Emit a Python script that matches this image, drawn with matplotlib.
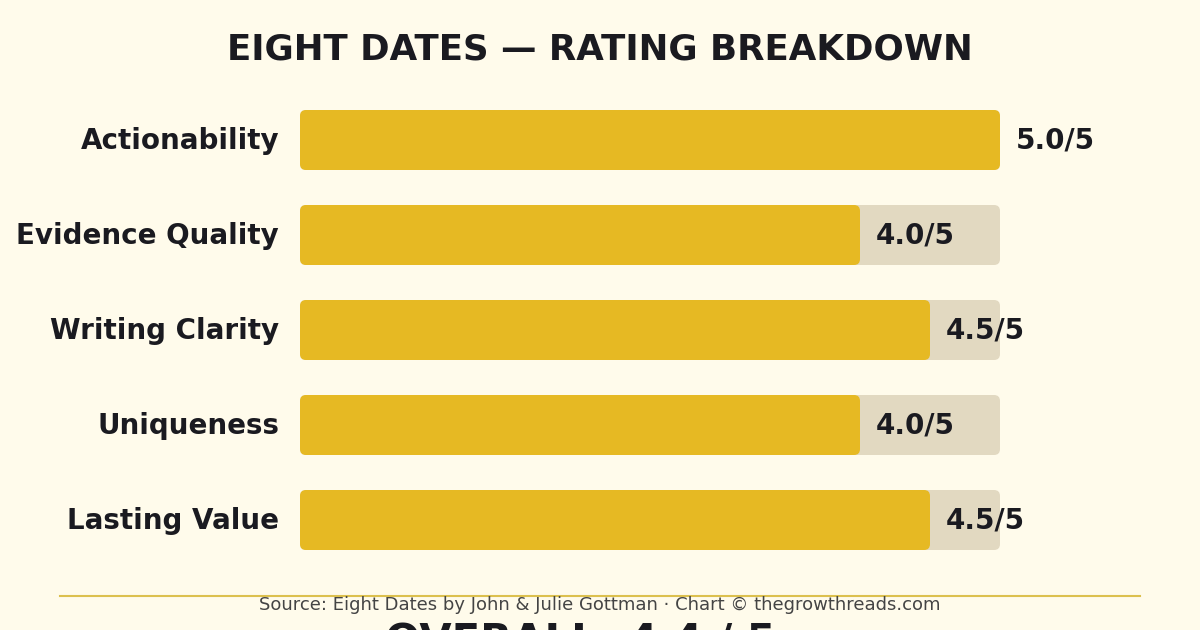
import matplotlib
matplotlib.use("Agg")
import matplotlib.pyplot as plt
from matplotlib.patches import FancyBboxPatch
from matplotlib.lines import Line2D

# =========================
# Data
# =========================
categories = ["Actionability", "Evidence Quality", "Writing Clarity", "Uniqueness", "Lasting Value"]
scores = [5.0, 4.0, 4.5, 4.0, 4.5]
max_score = 5.0
overall = 4.4

BG = "#FFFBEB"
GOLD = "#E6B923"
TRACK = "#E2D9C1"
INK = "#1A1A20"

plt.rcParams["font.family"] = ["DejaVu Sans"]

fig = plt.figure(figsize=(12, 6.3), dpi=100, facecolor=BG)
ax = fig.add_axes([300 / 1200, 1 - 567.5 / 630, 700 / 1200, 475 / 630])
ax.set_facecolor(BG)
ax.set_xlim(0, max_score)
ax.set_ylim(len(categories) - 0.5, -0.5)
ax.axis("off")

bar_h = 60 / 95
aspect = 140 / 95
rad = 6 / 140

for i, (cat, s) in enumerate(zip(categories, scores)):
    # background track
    ax.add_patch(FancyBboxPatch((0, i - bar_h / 2), max_score, bar_h,
                                boxstyle=f"round,pad=0,rounding_size={rad}",
                                mutation_aspect=aspect, fc=TRACK, ec="none"))
    # score bar
    ax.add_patch(FancyBboxPatch((0, i - bar_h / 2), s, bar_h,
                                boxstyle=f"round,pad=0,rounding_size={rad}",
                                mutation_aspect=aspect, fc=GOLD, ec="none"))
    ax.text(-0.15, i + 0.01, cat, ha="right", va="center", fontsize=20,
            fontweight="bold", color=INK, clip_on=False)
    ax.text(s + 0.11, i + 0.01, f"{s:.1f}/5", ha="left", va="center", fontsize=20,
            fontweight="bold", color=INK, clip_on=False)

# =========================
# Title, footer
# =========================
fig.text(0.5, 1 - 50 / 630, "EIGHT DATES — RATING BREAKDOWN", ha="center", va="center",
         fontsize=25.7, fontweight="bold", color=INK)

fig.add_artist(Line2D([60 / 1200, 1140 / 1200], [1 - 596 / 630] * 2,
                      color="#DCC04E", linewidth=1.5, transform=fig.transFigure))
fig.text(0.5, 1 - 605 / 630, "Source: Eight Dates by John & Julie Gottman · Chart © thegrowthreads.com",
         ha="center", va="center", fontsize=13, color="#444444")
fig.text(580 / 1200, 1 - 642 / 630, f"OVERALL: {overall} / 5", ha="center", va="center",
         fontsize=30, fontweight="bold", color=INK)

fig.savefig("out.png", dpi=100, facecolor=BG)
